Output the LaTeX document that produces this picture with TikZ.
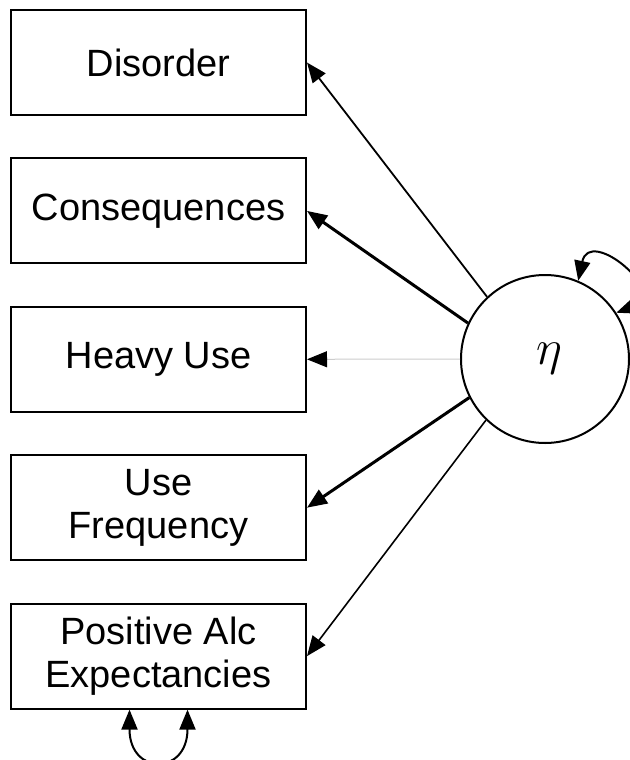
\documentclass[tikz,border=0pt]{standalone}
\usepackage{fontspec}
\setmainfont{Liberation Sans}
\usetikzlibrary{arrows.meta}
\begin{document}
\begin{tikzpicture}[x=0.5pt,y=-0.5pt,>={Triangle[length=10pt,width=8pt,color=black]}]
\tikzset{varbox/.style={draw,line width=1pt,minimum width=147.5pt,minimum height=52.5pt,inner sep=0pt,align=center,font=\fontsize{19}{21.5}\selectfont}}
\tikzset{latent/.style={draw,circle,line width=1pt,minimum size=84pt,inner sep=0pt,font=\fontsize{25}{27}\selectfont}}
\useasboundingbox (0,0) rectangle (629,760);
\foreach \i/\nm/\txt in {0/dis/Disorder,1/cons/Consequences,2/heavy/Heavy Use,3/freq/{Use\\Frequency},4/pos/{Positive Alc\\Expectancies}}
\node[varbox] (\nm) at (158.5,62.5+148.4*\i) {\txt};
\node[latent] (eta) at (545,359) {\kern4pt$\eta$};
\draw[->,line width=0.9pt] (eta.133) -- (dis.east);
\draw[->,line width=1.5pt] (eta.155) -- (cons.east);
\draw[->,line width=0.5pt,color=black!20] (eta.180) -- (heavy.east);
\draw[->,line width=1.5pt] (eta.207) -- (freq.east);
\draw[->,line width=0.8pt] (eta.226) -- (pos.east);
\draw[<->,line width=1pt] (eta.67) .. controls +(78:28pt) and +(20:28pt) .. (eta.33);
\draw[<->,line width=1pt] ([xshift=-14.5pt]pos.south) .. controls +(0,-33pt) and +(0,-33pt) .. ([xshift=14.5pt]pos.south);
\end{tikzpicture}
\end{document}
